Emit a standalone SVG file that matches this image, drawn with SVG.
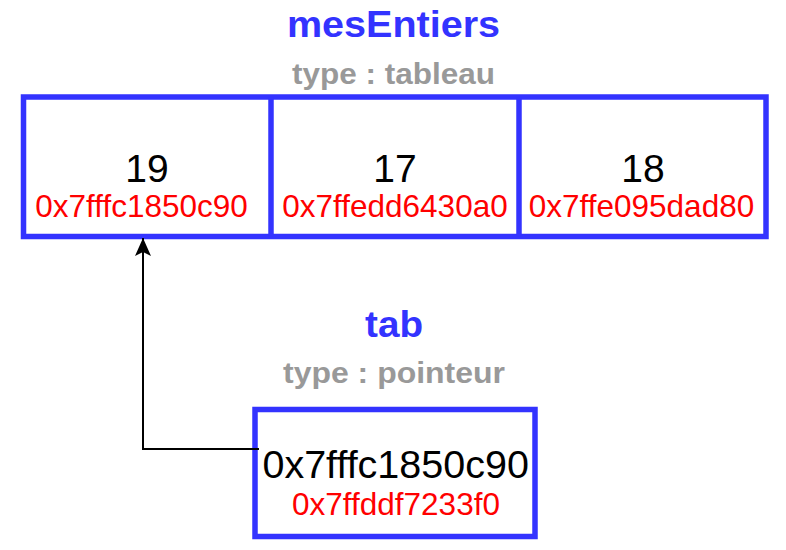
<svg xmlns="http://www.w3.org/2000/svg" width="786" height="550" viewBox="0 0 786 550">
  <style>
    .box { fill: #ffffff; stroke: #3333ff; stroke-width: 5.5; }
    .div { stroke: #3333ff; stroke-width: 5.5; }
    .name { font-family: "Liberation Sans", Arial, sans-serif; font-weight: bold; fill: #3333ff; text-anchor: middle; }
    .type { font-family: "Liberation Sans", Arial, sans-serif; font-weight: bold; fill: #999999; text-anchor: middle; }
    .val { font-family: "Liberation Sans", Arial, sans-serif; fill: #000000; text-anchor: middle; }
    .addr { font-family: "Liberation Sans", Arial, sans-serif; fill: #ff0000; text-anchor: middle; font-size: 31.5px; }
    .link { fill: none; stroke: #000000; stroke-width: 2; }
  </style>
  <defs>
    <marker id="arrow" markerUnits="userSpaceOnUse" markerWidth="20" markerHeight="20" viewBox="0 0 20 20" refX="18" refY="10" orient="auto">
      <path d="M18,10 L0,2 L4,10 L0,18 Z" fill="#000000"/>
    </marker>
  </defs>

  <!-- array variable: three cells -->
  <g id="mesEntiers">
    <text class="name" x="393.5" y="37" font-size="36" textLength="213" lengthAdjust="spacingAndGlyphs">mesEntiers</text>
    <text class="type" x="393.5" y="84" font-size="30" textLength="203" lengthAdjust="spacingAndGlyphs">type : tableau</text>
    <rect class="box" x="23.5" y="97" width="742.5" height="139.5"/>
    <line class="div" x1="271" y1="97" x2="271" y2="236.5"/>
    <line class="div" x1="519" y1="97" x2="519" y2="236.5"/>
  </g>
  <g id="cell0">
    <text class="val" x="147" y="182" font-size="39">19</text>
    <text class="addr" x="141.5" y="216.5">0x7fffc1850c90</text>
  </g>
  <g id="cell1">
    <text class="val" x="395" y="182" font-size="39">17</text>
    <text class="addr" x="395" y="216.5">0x7ffedd6430a0</text>
  </g>
  <g id="cell2">
    <text class="val" x="643" y="182" font-size="39">18</text>
    <text class="addr" x="641.5" y="216.5">0x7ffe095dad80</text>
  </g>

  <!-- pointer variable -->
  <g id="tab">
    <text class="name" x="394" y="337" font-size="37" textLength="58" lengthAdjust="spacingAndGlyphs">tab</text>
    <text class="type" x="394" y="383" font-size="30" textLength="222" lengthAdjust="spacingAndGlyphs">type : pointeur</text>
    <rect class="box" x="255" y="409.5" width="280" height="127"/>
    <text class="val" x="395.7" y="478" font-size="39.5">0x7fffc1850c90</text>
    <text class="addr" x="396" y="515">0x7ffddf7233f0</text>
  </g>

  <!-- pointer to first cell -->
  <g id="connectors">
    <path class="link" d="M259,449 L143,449 L143,238" marker-end="url(#arrow)"/>
  </g>
</svg>
